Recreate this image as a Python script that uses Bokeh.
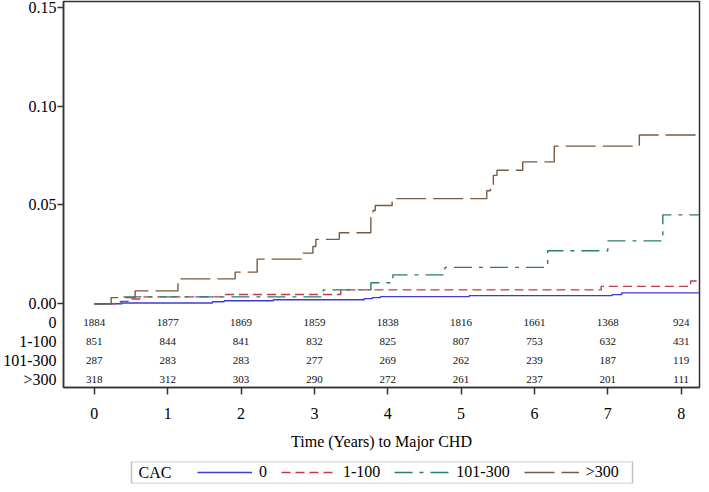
from bokeh.plotting import figure
from bokeh.layouts import column
from bokeh.models import FixedTicker, Legend, LegendItem, Range1d, Label, BoxAnnotation
from bokeh.core.properties import value
from bokeh.embed import file_html
from bokeh.resources import INLINE

FONT = "Liberation Serif"
NAN = float("nan")

# ---- data -------------------------------------------------------------
groups = ["0", "1-100", "101-300", ">300"]
legend_title = "CAC"

t_cac0 = [0, 0.35, 1.61, 1.77, 2.44, 3.68, 3.79, 3.90, 5.11, 7.06, 7.19, 8.3]
v_cac0 = [0, 0.0004, 0.0010, 0.0015, 0.0020, 0.0026, 0.0031, 0.0036, 0.0041, 0.0046, 0.0055, 0.0055]

t_cac1 = [0, 0.30, 0.46, 0.62, 1.75, 3.36, 6.91, 8.13, 8.3]
v_cac1 = [0, 0.0012, 0.0024, 0.0035, 0.0047, 0.0070, 0.0088, 0.0115, 0.0115]

t_cac2 = [0, 0.38, 3.12, 3.77, 4.07, 4.78, 6.18, 7.00, 7.75, 8.3]
v_cac2 = [0, 0.0035, 0.0070, 0.0106, 0.0146, 0.0184, 0.0268, 0.0318, 0.0450, 0.0450]

t_cac3 = [0, 0.23, 0.556, 1.14, 1.92, 2.22, 2.84, 2.98, 3.02, 3.34, 3.77, 3.80,
          3.83, 4.06, 5.35, 5.40, 5.44, 5.49, 5.84, 6.27, 7.43, 8.3]
v_cac3 = [0, 0.0031, 0.0065, 0.0126, 0.0160, 0.0226, 0.0256, 0.0290, 0.0326, 0.0359, 0.0455, 0.0472,
          0.0497, 0.0532, 0.0572, 0.0602, 0.0650, 0.0676, 0.0718, 0.0798, 0.0854, 0.0854]

risk_times = [0, 1, 2, 3, 4, 5, 6, 7, 8]
risk_cac0 = [1884, 1877, 1869, 1859, 1838, 1816, 1661, 1368, 924]
risk_cac1 = [851, 844, 841, 832, 825, 807, 753, 632, 431]
risk_cac2 = [287, 283, 283, 277, 269, 262, 239, 187, 119]
risk_cac3 = [318, 312, 303, 290, 272, 261, 237, 201, 111]
risk_row_y = [-0.0095, -0.0189, -0.0287, -0.0384]

y_ticks = [0.0, 0.05, 0.10, 0.15]
y_tick_labels = ["0.00", "0.05", "0.10", "0.15"]
x_ticks = [0, 1, 2, 3, 4, 5, 6, 7, 8]

# ---- styles -----------------------------------------------------------
colors = ["#3c3cd2", "#c23a4c", "#2b7c6c", "#7b5a3f"]
dashes = ["solid", "9 5", "18 7 4 7", "30 7"]
LW = 1.4
AX = "#333333"
W = 701

p = figure(width=W, height=459, output_backend="svg", toolbar_location=None,
           x_range=Range1d(-0.42, 8.25), y_range=Range1d(-0.0424, 0.153),
           min_border_left=0, min_border_right=2, min_border_top=1, min_border_bottom=72)
p.grid.visible = False
p.outline_line_color = AX
p.outline_line_width = 1.5
p.background_fill_color = "white"

series = [(t_cac0, v_cac0), (t_cac1, v_cac1), (t_cac2, v_cac2), (t_cac3, v_cac3)]
for (t, v), c, d in zip(series, colors, dashes):
    p.step(t, v, mode="after", line_color=c, line_dash=d, line_width=LW)

for yy, counts in zip(risk_row_y, [risk_cac0, risk_cac1, risk_cac2, risk_cac3]):
    p.text(x=risk_times, y=[yy] * len(risk_times), text=[str(n) for n in counts],
           text_font=value(FONT), text_font_size="11px", text_align="center",
           text_baseline="middle", text_color="#111111")

# y axis: numeric ticks (with tick marks, drawn as minor ticks) + row labels
ya = p.yaxis[0]
ya.ticker = FixedTicker(ticks=y_ticks + risk_row_y, minor_ticks=y_ticks)
overrides = dict(zip(y_ticks, y_tick_labels))
overrides.update(dict(zip(risk_row_y, groups)))
ya.major_label_overrides = overrides
ya.major_tick_line_color = None
ya.major_tick_in = 0
ya.major_tick_out = 6
ya.minor_tick_in = 0
ya.minor_tick_out = 6
ya.minor_tick_line_color = AX
ya.minor_tick_line_width = 1.5
ya.axis_line_color = AX
ya.axis_line_width = 1.5
ya.major_label_text_font = FONT
ya.major_label_text_font_size = "16px"
ya.major_label_text_color = "black"
ya.major_label_standoff = 1

xa = p.xaxis[0]
xa.ticker = FixedTicker(ticks=x_ticks)
xa.major_tick_in = 0
xa.major_tick_out = 7
xa.major_tick_line_color = AX
xa.major_tick_line_width = 1.5
xa.minor_tick_line_color = None
xa.axis_line_color = AX
xa.axis_line_width = 1.5
xa.major_label_text_font = FONT
xa.major_label_text_font_size = "16px"
xa.major_label_text_color = "black"
xa.major_label_standoff = 13
xa.axis_label = "Time (Years) to Major CHD"
xa.axis_label_text_font = FONT
xa.axis_label_text_font_size = "16px"
xa.axis_label_text_font_style = "normal"
xa.axis_label_text_color = "black"
xa.axis_label_standoff = 11

# ---- legend strip (its frame lines up with the plot frame) ------------
lg = figure(width=W, height=25, output_backend="svg", toolbar_location=None,
            x_range=Range1d(0, 1), y_range=Range1d(0, 1),
            x_axis_location=None, y_axis_location=None,
            min_border_left=0, min_border_right=2, min_border_top=2, min_border_bottom=1)
lg.grid.visible = False
lg.outline_line_color = None

BOX_L, BOX_W = 68, 501
lg.add_layout(BoxAnnotation(left=BOX_L, right=BOX_L + BOX_W, left_units="screen",
                            right_units="screen", fill_alpha=0.0,
                            line_color=AX, line_width=1.5))
keys = []
for c, d in zip(colors, dashes):
    keys.append(lg.line([NAN], [NAN], line_color=c, line_dash=d, line_width=LW))
items = [LegendItem(label=g, renderers=[r]) for g, r in zip(groups, keys)]
legend = Legend(items=items, orientation="horizontal", location=(BOX_L + 66, 2),
                label_text_font=FONT, label_text_font_size="16px", label_text_color="black",
                glyph_width=55, glyph_height=16, label_standoff=7, label_width=0,
                label_height=16, spacing=14, padding=0, margin=0,
                border_line_color=None, background_fill_alpha=0.0)
lg.add_layout(legend, "center")
lg.add_layout(Label(x=BOX_L + 7, y=11, x_units="screen", y_units="screen",
                    text=legend_title, text_font=FONT, text_font_size="16px",
                    text_color="black", text_baseline="middle"))

layout = column(p, lg, spacing=0)
open("out.html", "w").write(file_html(layout, INLINE))
